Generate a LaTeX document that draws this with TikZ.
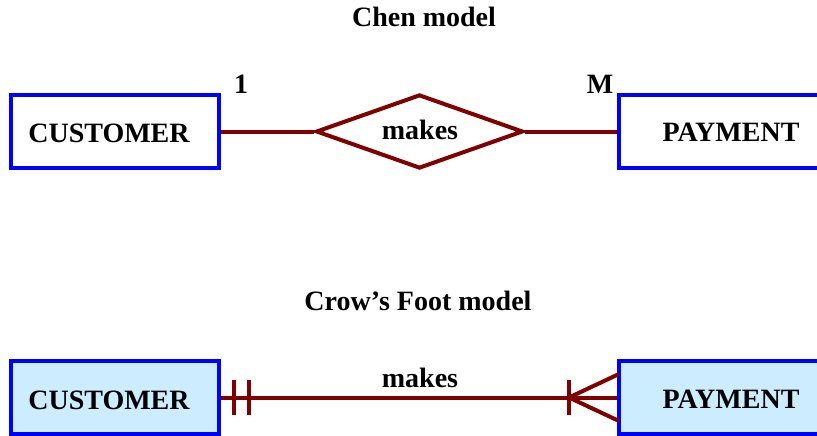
\documentclass[tikz,border=0pt]{standalone}
\usepackage{fontspec}
\setmainfont{Liberation Serif}
\usetikzlibrary{shapes.geometric}
\definecolor{entblue}{RGB}{0,0,255}
\definecolor{relred}{RGB}{128,0,0}
\definecolor{entfill}{RGB}{204,236,255}
\begin{document}
\begin{tikzpicture}[x=1pt,y=-1pt,
  lbl/.style={font=\fontsize{28}{30}\selectfont\bfseries, inner sep=0pt},
  entity/.style={draw=entblue, line width=4pt, minimum width=208pt, minimum height=73pt, inner sep=0pt},
  rel/.style={draw=relred, line width=4pt},
  conn/.style={draw=relred, line width=4pt}]
\useasboundingbox (0,0) rectangle (817,436);
\begin{scope}
\clip (0,0) rectangle (817,436);
% Chen model
\node[lbl] (t1) at (424,17) {Chen model};
\node[entity] (c1) at (115,131.5) {};
\node[lbl] (c1t) at (109,133) {CUSTOMER};
\node[entity] (p1) at (723,131.5) {};
\node[lbl] (p1t) at (731,132) {PAYMENT};
\node[rel, diamond, minimum width=207pt, minimum height=74pt, inner sep=0pt, aspect=2.8] (d1) at (419.5,131.5) {};
\node[lbl] (d1t) at (420,130) {makes};
\node[lbl] (one) at (241,84) {1};
\node[lbl] (many) at (600,84) {M};
\draw[conn] (c1.east) -- (d1.west);
\draw[conn] (d1.east) -- (p1.west);
% Crow's foot model
\node[lbl] (t2) at (418,301) {Crow’s Foot model};
\node[entity, fill=entfill] (c2) at (115,397.5) {};
\node[lbl] (c2t) at (109,400) {CUSTOMER};
\node[entity, fill=entfill] (p2) at (723,397.5) {};
\node[lbl] (p2t) at (731,399) {PAYMENT};
\node[lbl] (m2) at (420,378) {makes};
\draw[conn] (c2.east) -- (p2.west);
\coordinate (ta1) at (234,380); \coordinate (tb1) at (234,415);
\coordinate (ta2) at (249,380); \coordinate (tb2) at (249,415);
\draw[conn] (ta1) -- (tb1);
\draw[conn] (ta2) -- (tb2);
\coordinate (fb1) at (569,380); \coordinate (fb2) at (569,415);
\coordinate (fp) at (569,397.5);
\coordinate (fu) at (619,374); \coordinate (fl) at (619,421);
\draw[conn] (fb1) -- (fb2);
\draw[conn] (fu) -- (fp) -- (fl);
\end{scope}
\end{tikzpicture}
\end{document}
